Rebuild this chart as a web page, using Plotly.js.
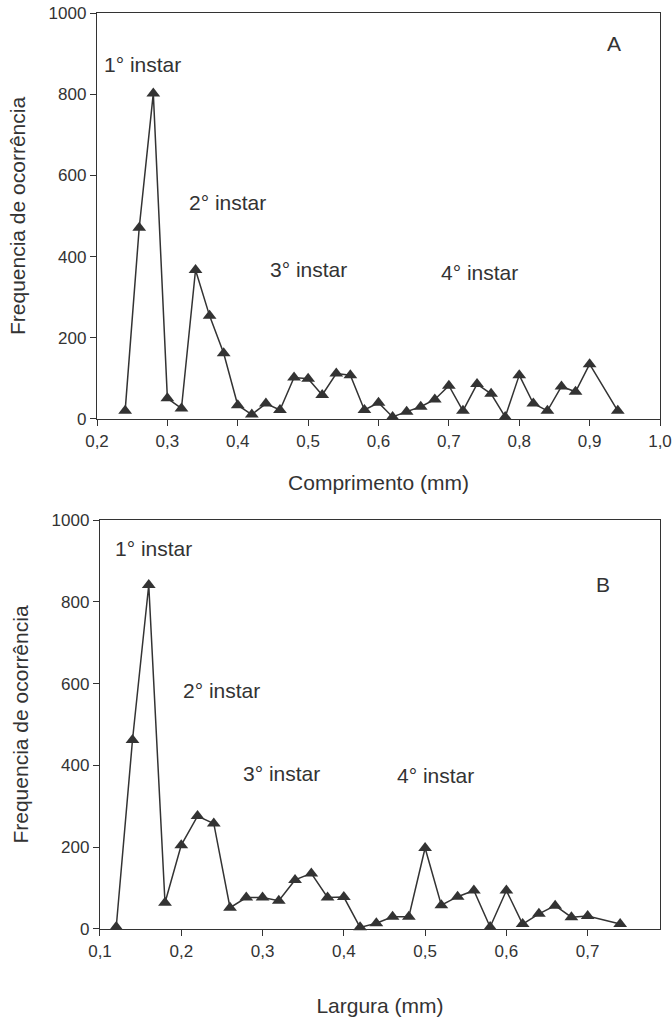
<!DOCTYPE html>
<html>
<head>
<meta charset="utf-8">
<script src="https://cdn.plot.ly/plotly-3.0.1.min.js"></script>
<style>html,body{margin:0;padding:0;background:#fff}#chart{width:672px;height:1024px}</style>
</head>
<body>
<div id="chart"></div>
<script>
// Panel A: Comprimento (mm)
const comprimento = [0.24,0.26,0.28,0.30,0.32,0.34,0.36,0.38,0.40,0.42,0.44,0.46,0.48,0.50,0.52,0.54,0.56,0.58,0.60,0.62,0.64,0.66,0.68,0.70,0.72,0.74,0.76,0.78,0.80,0.82,0.84,0.86,0.88,0.90,0.94];
const freqA = [20,471,802,51,26,367,254,162,34,11,38,22,102,99,59,112,108,22,40,5,18,30,48,82,20,86,62,5,108,38,20,80,67,135,20];
// Panel B: Largura (mm)
const largura = [0.12,0.14,0.16,0.18,0.20,0.22,0.24,0.26,0.28,0.30,0.32,0.34,0.36,0.38,0.40,0.42,0.44,0.46,0.48,0.50,0.52,0.54,0.56,0.58,0.60,0.62,0.64,0.66,0.68,0.70,0.74];
const freqB = [5,462,841,64,205,276,258,52,77,77,69,120,136,77,78,4,14,30,30,198,58,79,94,5,94,12,37,57,29,32,12];

const ticksA = [0.2,0.3,0.4,0.5,0.6,0.7,0.8,0.9,1.0];
const ticksB = [0.1,0.2,0.3,0.4,0.5,0.6,0.7];
const yTicks = [0,200,400,600,800,1000];

const labelsA = [{x:0.265,y:874,t:'1° instar'},{x:0.385,y:534,t:'2° instar'},{x:0.5,y:367,t:'3° instar'},{x:0.744,y:362,t:'4° instar'},{x:0.935,y:924,t:'A'}];
const labelsB = [{x:0.166,y:931,t:'1° instar'},{x:0.249,y:584,t:'2° instar'},{x:0.323,y:381,t:'3° instar'},{x:0.513,y:376,t:'4° instar'},{x:0.719,y:843,t:'B'}];

const ink = '#333333';
const font = {family:'Liberation Sans, Arial, sans-serif', color:ink};

const marker = {symbol:'triangle-up', size:12, color:ink};
const line = {color:ink, width:1.5};

const traces = [
  {x:comprimento, y:freqA, xaxis:'x', yaxis:'y', mode:'lines+markers', marker:marker, line:line, cliponaxis:false},
  {x:largura, y:freqB, xaxis:'x2', yaxis:'y2', mode:'lines+markers', marker:marker, line:line, cliponaxis:false}
];

function xax(range, ticks, title, anchor, domain, standoff){
  return {range:range, tickvals:ticks, tickformat:'.1f', ticks:'outside', ticklen:6, tickcolor:ink,
    showline:true, mirror:true, linecolor:ink, linewidth:1.2, showgrid:false, zeroline:false,
    tickfont:{...font, size:17}, anchor:anchor, domain:domain,
    title:{text:title, font:{...font, size:21}, standoff:standoff}};
}
function yax(domain, anchor){
  return {range:[0,1000], tickvals:yTicks, ticks:'outside', ticklen:6, tickcolor:ink,
    showline:true, mirror:true, linecolor:ink, linewidth:1.2, showgrid:false, zeroline:false,
    tickfont:{...font, size:17}, domain:domain, anchor:anchor,
    title:{text:'Frequencia de ocorrência', font:{...font, size:21}, standoff:17}};
}

const annotations = [];
labelsA.forEach(l=>annotations.push({x:l.x,y:l.y,xref:'x',yref:'y',text:l.t,showarrow:false,font:{...font,size:21}}));
labelsB.forEach(l=>annotations.push({x:l.x,y:l.y,xref:'x2',yref:'y2',text:l.t,showarrow:false,font:{...font,size:21}}));

const layout = {
  width:672, height:1024,
  margin:{l:97, r:12, t:13, b:95},
  paper_bgcolor:'#fff', plot_bgcolor:'#fff',
  showlegend:false,
  separators:',.',
  font:font,
  xaxis: xax([0.2,1.0], ticksA, 'Comprimento (mm)', 'y', [0,1], 25),
  yaxis: yax([0.5568,1], 'x'),
  xaxis2: xax([0.1,0.789], ticksB, 'Largura (mm)', 'y2', [0.0053,1], 38),
  yaxis2: yax([0,0.4465], 'x2'),
  annotations: annotations
};

Plotly.newPlot('chart', traces, layout, {staticPlot:true});
</script>
</body>
</html>
